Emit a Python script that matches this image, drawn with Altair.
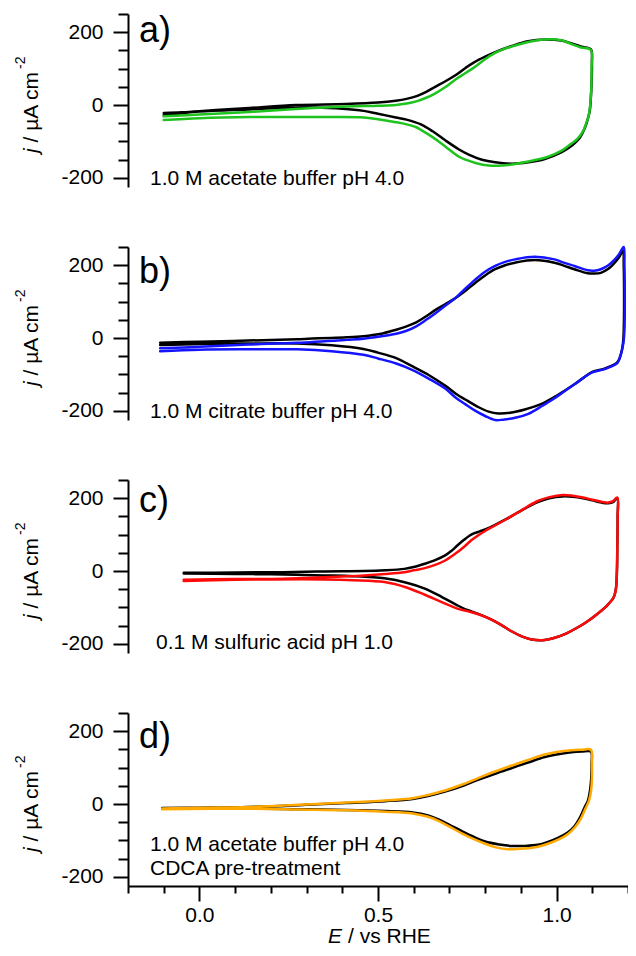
import altair as alt
import pandas as pd

FONT = "Liberation Sans"

E_DOMAIN = [-0.2, 1.2]
J_DOMAIN = [-225, 250]
E_TICKS = [-0.2, -0.1, 0.0, 0.1, 0.2, 0.3, 0.4, 0.5, 0.6, 0.7, 0.8, 0.9, 1.0, 1.1, 1.2]
J_TICKS = [-200, -150, -100, -50, 0, 50, 100, 150, 200, 250]

# ---------------- panel a : acetate buffer (black / green)
A_BLACK_E = [-0.10, -0.05, 0.0, 0.07, 0.14, 0.27, 0.41, 0.50, 0.55, 0.58, 0.61, 0.635, 0.66, 0.69, 0.72, 0.745, 0.77, 0.80,
             0.83, 0.875, 0.92, 0.967, 1.013, 1.04, 1.07, 1.096,
             1.099, 1.098, 1.096, 1.093, 1.087, 1.078, 1.065, 1.045, 1.013, 0.967, 0.921, 0.875, 0.828, 0.791, 0.754,
             0.727, 0.69, 0.653, 0.62, 0.58, 0.55, 0.50, 0.46, 0.40, 0.32, 0.23, 0.14, 0.0, -0.10]
A_BLACK_J = [-22, -20, -17, -12, -8, 0, 3, 7, 12, 17, 25, 36, 50, 66, 84, 102, 118, 133,
             146, 162, 175, 180, 177, 170, 160, 153,
             120, 60, 20, -15, -40, -66, -90, -110, -130, -148, -157, -161, -157, -150, -136,
             -122, -98, -72, -53, -40, -34, -24, -16, -10, -7, -8, -12, -18, -28]
A_COL_E = [-0.10, 0.0, 0.14, 0.27, 0.41, 0.50, 0.55, 0.58, 0.607, 0.635, 0.662, 0.69, 0.717, 0.745, 0.773, 0.80, 0.828,
           0.85, 0.875, 0.921, 0.967, 1.013, 1.04, 1.068, 1.096,
           1.098, 1.097, 1.094, 1.09, 1.083, 1.075, 1.059, 1.04, 1.013, 0.976, 0.921, 0.875, 0.847, 0.81, 0.773,
           0.745, 0.727, 0.69, 0.653, 0.62, 0.607, 0.58, 0.55, 0.50, 0.46, 0.32, 0.14, 0.0, -0.10]
A_COL_J = [-31, -26, -19, -11, -4, -2, 0, 4, 10, 20, 33, 50, 70, 88, 106, 126, 143,
           153, 161, 173, 180, 178, 168, 158, 151,
           100, 40, 0, -29, -50, -70, -92, -107, -126, -142, -155, -163, -166, -166, -159,
           -150, -142, -115, -88, -68, -61, -53, -47, -39, -34, -33, -33, -36, -41]

# ---------------- panel b : citrate buffer (black / blue)
B_BLACK_E = [-0.11, 0.0, 0.136, 0.274, 0.413, 0.459, 0.505, 0.551, 0.58, 0.607, 0.635, 0.662, 0.69, 0.717, 0.745, 0.773,
             0.80, 0.828, 0.856, 0.884, 0.939, 0.994, 1.02, 1.05, 1.087, 1.105, 1.124, 1.145, 1.161, 1.175, 1.186,
             1.188, 1.189, 1.188, 1.186, 1.18, 1.17, 1.15, 1.132, 1.10, 1.077, 1.05, 1.004, 0.96, 0.911, 0.87, 0.837,
             0.81, 0.782, 0.75, 0.717, 0.69, 0.643, 0.597, 0.551, 0.50, 0.459, 0.37, 0.274, 0.136, 0.0, -0.11]
B_BLACK_J = [-13, -10, -7, -3, 2, 5, 11, 23, 32, 43, 60, 78, 94, 110, 130, 152,
             172, 189, 200, 207, 214, 207, 199, 189, 178, 177, 179, 190, 205, 222, 240,
             200, 100, 20, -14, -45, -67, -78, -85, -93, -108, -127, -156, -180, -196, -205, -207,
             -202, -190, -172, -152, -132, -102, -78, -55, -40, -30, -20, -15, -15, -16, -19]
B_COL_E = [-0.11, 0.0, 0.136, 0.274, 0.413, 0.459, 0.505, 0.551, 0.58, 0.607, 0.635, 0.662, 0.69, 0.717, 0.745, 0.773,
           0.80, 0.828, 0.856, 0.884, 0.939, 0.994, 1.02, 1.05, 1.087, 1.105, 1.124, 1.145, 1.161, 1.175, 1.188,
           1.190, 1.191, 1.190, 1.187, 1.18, 1.17, 1.15, 1.132, 1.10, 1.077, 1.05, 1.022, 0.99, 0.96, 0.921, 0.884,
           0.85, 0.828, 0.80, 0.773, 0.745, 0.717, 0.69, 0.643, 0.597, 0.551, 0.50, 0.459, 0.37, 0.274, 0.136, 0.0, -0.11]
B_COL_J = [-28, -24, -18, -13, -5, -2, 4, 12, 20, 32, 50, 69, 90, 110, 136, 161,
           182, 198, 209, 216, 223, 216, 207, 198, 186, 185, 189, 200, 214, 230, 250,
           200, 100, 20, -14, -45, -69, -79, -86, -94, -108, -127, -146, -168, -186, -208, -219,
           -224, -225, -214, -200, -182, -163, -140, -112, -88, -70, -56, -46, -36, -31, -31, -32, -36]

# ---------------- panel c : sulfuric acid (black / red)
C_BLACK_E = [-0.044, 0.1, 0.234, 0.35, 0.461, 0.52, 0.574, 0.60, 0.631, 0.66, 0.688, 0.705, 0.722, 0.74, 0.756, 0.77,
             0.785, 0.80, 0.824, 0.86, 0.892, 0.92, 0.949, 0.98, 1.017, 1.045, 1.074, 1.10, 1.131, 1.145, 1.158, 1.17,
             1.171, 1.170, 1.169, 1.166, 1.16, 1.142, 1.115, 1.085, 1.055, 1.028, 0.995, 0.96, 0.93, 0.904, 0.875,
             0.847, 0.815, 0.779, 0.75, 0.722, 0.68, 0.631, 0.58, 0.518, 0.43, 0.347, 0.2, 0.1, -0.044]
C_BLACK_J = [-5, -4, -3, -1, 0, 2, 6, 11, 20, 30, 43, 55, 70, 85, 97, 104,
             109, 114, 125, 143, 161, 176, 190, 200, 205, 204, 200, 194, 187, 186, 189, 200,
             150, 60, 0, -50, -72, -94, -117, -139, -157, -171, -183, -190, -188, -180, -166,
             -149, -132, -117, -107, -94, -72, -48, -32, -20, -14, -12, -9, -8, -7]
C_COL_E = [-0.044, 0.1, 0.234, 0.35, 0.461, 0.52, 0.574, 0.60, 0.631, 0.66, 0.688, 0.72, 0.745, 0.762, 0.779, 0.80,
           0.824, 0.86, 0.892, 0.92, 0.949, 0.98, 1.017, 1.045, 1.074, 1.10, 1.131, 1.145, 1.158, 1.17,
           1.171, 1.170, 1.169, 1.166, 1.16, 1.142, 1.115, 1.085, 1.055, 1.028, 0.995, 0.96, 0.93, 0.904, 0.875,
           0.847, 0.815, 0.779, 0.75, 0.722, 0.68, 0.631, 0.58, 0.518, 0.43, 0.347, 0.2, 0.1, -0.044]
C_COL_J = [-24, -22, -21, -17, -12, -8, -3, 2, 8, 17, 29, 50, 70, 85, 97, 110,
           123, 143, 161, 178, 193, 203, 209, 207, 202, 196, 189, 188, 192, 202,
           150, 60, 0, -50, -72, -94, -117, -139, -157, -171, -183, -190, -188, -180, -166,
           -149, -132, -118, -110, -103, -86, -65, -45, -30, -25, -23, -23, -24, -27]

# ---------------- panel d : acetate buffer, CDCA pre-treatment (black / orange)
D_BLACK_E = [-0.104, 0.0, 0.136, 0.28, 0.413, 0.52, 0.597, 0.64, 0.69, 0.74, 0.782, 0.83, 0.875, 0.92, 0.967, 1.00,
             1.041, 1.07, 1.096,
             1.098, 1.097, 1.094, 1.088, 1.078, 1.065, 1.05, 1.03, 1.004, 0.976, 0.948, 0.91, 0.874, 0.84, 0.8, 0.77,
             0.736, 0.70, 0.671, 0.64, 0.597, 0.52, 0.413, 0.28, 0.136, -0.104]
D_BLACK_J = [-11, -10, -8, -3, 3, 8, 14, 22, 35, 51, 67, 84, 99, 114, 129, 136,
             142, 144, 144,
             110, 70, 40, 10, -10, -38, -61, -79, -93, -104, -112, -115, -115, -111, -103, -91,
             -75, -57, -43, -31, -23, -19, -16, -14, -12, -13]
D_COL_E = [-0.104, 0.0, 0.136, 0.28, 0.413, 0.52, 0.597, 0.64, 0.69, 0.74, 0.782, 0.83, 0.875, 0.92, 0.967, 1.00,
           1.041, 1.07, 1.096,
           1.099, 1.099, 1.097, 1.091, 1.081, 1.068, 1.052, 1.032, 1.006, 0.976, 0.948, 0.91, 0.865, 0.83, 0.8, 0.77,
           0.736, 0.70, 0.671, 0.64, 0.597, 0.52, 0.413, 0.28, 0.136, -0.104]
D_COL_J = [-12, -10, -8, -2, 4, 10, 16, 25, 38, 55, 72, 90, 106, 121, 136, 143,
           148, 149, 149,
           110, 70, 40, 10, -12, -40, -63, -82, -97, -109, -117, -122, -124, -119, -109, -97,
           -81, -62, -47, -35, -26, -21, -17, -15, -13, -14]

PANEL_LETTERS = ["a)", "b)", "c)", "d)"]
PANEL_LABELS = [["1.0 M acetate buffer pH 4.0"],
                ["1.0 M citrate buffer pH 4.0"],
                ["0.1 M sulfuric acid pH 1.0"],
                ["1.0 M acetate buffer pH 4.0", "CDCA pre-treatment"]]
PANEL_COLORS = ["#1ec31e", "#1414ff", "#ff0a0a", "#ffa800"]
SERIES = [(A_BLACK_E, A_BLACK_J, A_COL_E, A_COL_J),
          (B_BLACK_E, B_BLACK_J, B_COL_E, B_COL_J),
          (C_BLACK_E, C_BLACK_J, C_COL_E, C_COL_J),
          (D_BLACK_E, D_BLACK_J, D_COL_E, D_COL_J)]

# layout (pixels, relative to each plot area); page must stay within 636 x 956
W, H = 500, 173
LETTER_POS = [(11, 28), (11, 36), (11, 32), (11, 35)]
LABEL_POS = [(22, [171]), (22, [171]), (28, [169]), (22, [138, 162])]
XTITLE_BASELINE = 230

x_scale = alt.Scale(domain=E_DOMAIN, nice=False, zero=False)
y_scale = alt.Scale(domain=J_DOMAIN, nice=False, zero=False)

major_x = "abs(datum.value*2 - round(datum.value*2)) < 0.001"
labeled_x = "(" + major_x + ") && datum.value > -0.05 && datum.value < 1.05"
x_axis = alt.Axis(
    values=E_TICKS, title=None, grid=False,
    labelExpr=labeled_x + " ? format(datum.value, '.1f') : ''",
    tickSize={"condition": {"test": major_x, "value": 15}, "value": 7},
    labelFontSize={"condition": {"test": labeled_x, "value": 21}, "value": 0},
    tickWidth=2, tickColor="black", domainWidth=2, domainColor="black",
    labelFont=FONT, labelColor="black", labelPadding=3,
    labelFlush=False, labelOverlap=False,
)
major_y = "datum.value % 200 == 0"
y_axis = alt.Axis(
    values=J_TICKS, title=None, grid=False,
    labelExpr=major_y + " ? toString(datum.value) : ''",
    tickSize={"condition": {"test": major_y, "value": 15}, "value": 10},
    labelFontSize={"condition": {"test": major_y, "value": 21}, "value": 0},
    tickWidth=2, tickColor="black", domainWidth=2, domainColor="black",
    labelFont=FONT, labelColor="black", labelPadding=10,
    labelFlush=False, labelOverlap=False,
)


def text_layer(txt, x, y, size, angle=0, style="normal", align="left"):
    return alt.Chart(pd.DataFrame({"t": [txt]})).mark_text(
        align=align, baseline="alphabetic", font=FONT, fontSize=size,
        fontStyle=style, angle=angle, color="black",
    ).encode(text="t:N", x=alt.value(x), y=alt.value(y))


panels = []
for i in range(4):
    be, bj, ce, cj = SERIES[i]
    show_x = i == 3
    df_b = pd.DataFrame({"E": be, "j": bj, "k": list(range(len(be)))})
    df_c = pd.DataFrame({"E": ce, "j": cj, "k": list(range(len(ce)))})
    enc = dict(
        x=alt.X("E:Q", scale=x_scale, axis=x_axis if show_x else None),
        y=alt.Y("j:Q", scale=y_scale, axis=y_axis),
        order=alt.Order("k:Q"),
    )
    line_style = dict(strokeWidth=2.5, strokeJoin="round", strokeCap="round", interpolate="catmull-rom")
    black = alt.Chart(df_b).mark_line(**line_style).encode(color=alt.value("black"), **enc)
    col = alt.Chart(df_c).mark_line(**line_style).encode(color=alt.value(PANEL_COLORS[i]), **enc)
    layers = [black, col]
    lx, ly = LETTER_POS[i]
    layers.append(text_layer(PANEL_LETTERS[i], lx, ly, 36))
    tx, tys = LABEL_POS[i]
    for line, ty in zip(PANEL_LABELS[i], tys):
        layers.append(text_layer(line, tx, ty, 21))
    # y-axis title: j / µA cm^-2 (rotated)
    layers.append(text_layer("j", -90.5, 139, 21, angle=270, style="italic"))
    layers.append(text_layer("/ \u00b5A cm", -90.5, 128.5, 21, angle=270))
    layers.append(text_layer("-2", -103, 55, 14, angle=270))
    if show_x:
        layers.append(text_layer("E", 200, XTITLE_BASELINE, 21, style="italic"))
        layers.append(text_layer("/ vs RHE", 220, XTITLE_BASELINE, 21))
    panels.append(alt.layer(*layers).properties(width=W, height=H))

chart = alt.vconcat(*panels, spacing=60, bounds="flush").properties(
    padding={"left": 6, "top": 5, "right": -1, "bottom": -4}
).configure_view(strokeWidth=0, stroke="transparent")

chart.save("out.html", embed_options={"renderer": "svg", "actions": False})
